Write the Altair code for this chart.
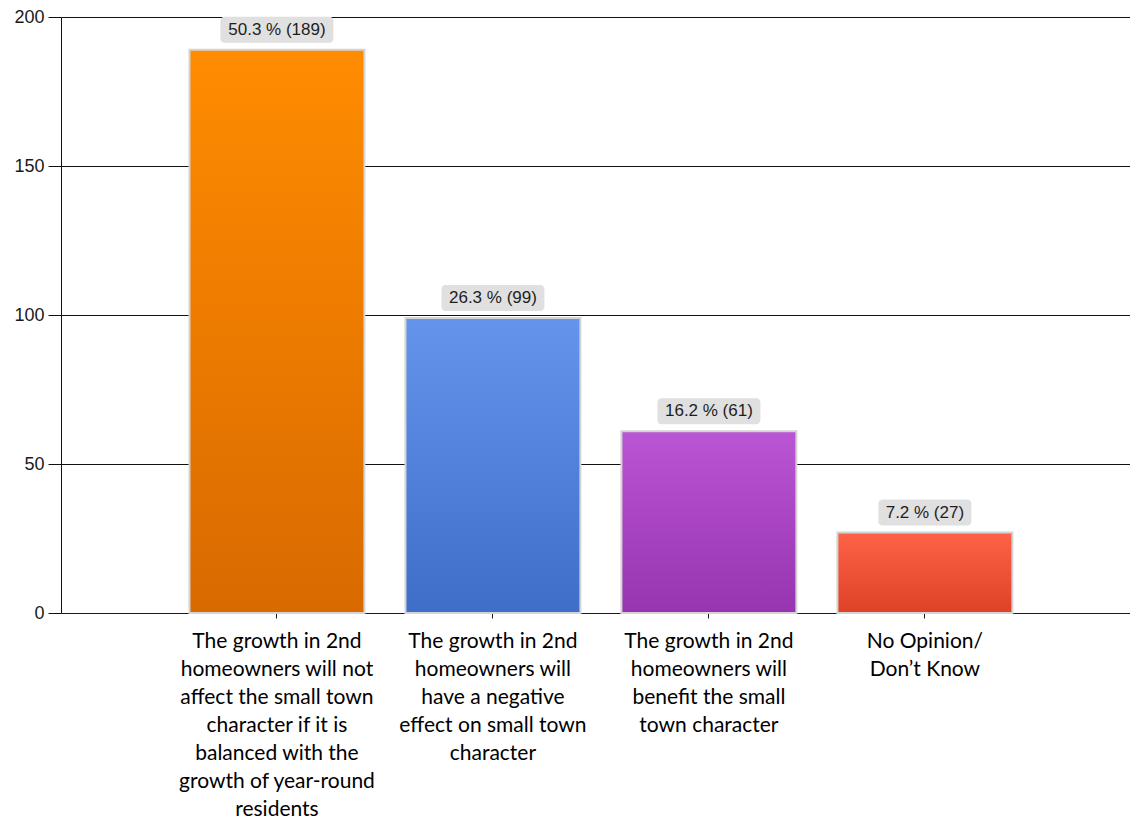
import altair as alt
import pandas as pd

# ---- data ----
categories = [
    "The growth in 2nd|homeowners will not|affect the small town|character if it is|balanced with the|growth of year-round|residents",
    "The growth in 2nd|homeowners will|have a negative|effect on small town|character",
    "The growth in 2nd|homeowners will|benefit the small|town character",
    "No Opinion/|Don’t Know",
]
counts = [189, 99, 61, 27]
labels = ["50.3 % (189)", "26.3 % (99)", "16.2 % (61)", "7.2 % (27)"]
y_ticks = [0, 50, 100, 150, 200]

# ---- styles ----
grad_top = ["#FF8C00", "#6495ED", "#BA55D3", "#FF6347"]
grad_bottom = ["#D96A00", "#3E6FC8", "#9734B0", "#DD4226"]

df = pd.DataFrame({"category": categories, "count": counts, "label": labels})

x_enc = alt.X(
    "category:N",
    sort=categories,
    scale=alt.Scale(paddingInner=0.19, paddingOuter=0.5697, align=0.522),
    axis=alt.Axis(
        title=None,
        labelExpr="split(datum.label, '|')",
        labelAngle=0,
        labelFont="Lato",
        labelFontSize=21,
        labelLineHeight=28,
        labelColor="#000000",
        labelPadding=12,
        labelLimit=400,
        tickSize=5,
        tickColor="#1a1a1a",
        domainColor="#1a1a1a",
        grid=False,
    ),
)
y_scale = alt.Scale(domain=[0, 200], nice=False)
y_enc = alt.Y(
    "count:Q",
    scale=y_scale,
    axis=alt.Axis(
        title=None,
        values=y_ticks,
        grid=True,
        gridColor="#111111",
        gridOpacity=1,
        domainColor="#111111",
        tickColor="#111111",
        tickSize=13,
        labelFont="Liberation Sans",
        labelFontSize=18,
        labelColor="#1a1a1a",
        labelPadding=4,
    ),
)

layers = []
for i, cat in enumerate(categories):
    grad = alt.LinearGradient(
        gradient="linear",
        stops=[
            alt.GradientStop(color=grad_top[i], offset=0),
            alt.GradientStop(color=grad_bottom[i], offset=1),
        ],
        x1=1, x2=1, y1=0, y2=1,
    )
    layer = (
        alt.Chart(df)
        .transform_filter(alt.datum.category == cat)
        .mark_bar(color=grad, stroke="#d4d4d4", strokeWidth=2)
        .encode(x=x_enc, y=y_enc)
    )
    layers.append(layer)

boxes = (
    alt.Chart(df)
    .transform_calculate(bw="length(datum.label) * 10 - 7")
    .mark_bar(color="#e0e0e0", cornerRadius=4, yOffset=-7, y2Offset=-33)
    .encode(
        x=alt.X("category:N", sort=categories),
        y=alt.Y("count:Q", scale=y_scale),
        y2="count:Q",
        size=alt.Size("bw:Q", scale=None, legend=None),
    )
)

texts = (
    alt.Chart(df)
    .mark_text(dy=-20, baseline="middle", align="center", font="Liberation Sans",
               fontSize=17, color="#1e1e1e")
    .encode(x=alt.X("category:N", sort=categories), y=alt.Y("count:Q", scale=y_scale),
            text="label:N")
)

chart = (
    alt.layer(*layers, boxes, texts)
    .properties(
        width=1069,
        height=596,
        padding={"left": 53, "top": 9, "right": 0, "bottom": 208},
        autosize=alt.AutoSizeParams(type="none"),
        background="white",
    )
    .configure_view(stroke=None)
)

chart.save("out.html", embed_options={"renderer": "svg", "actions": False})
